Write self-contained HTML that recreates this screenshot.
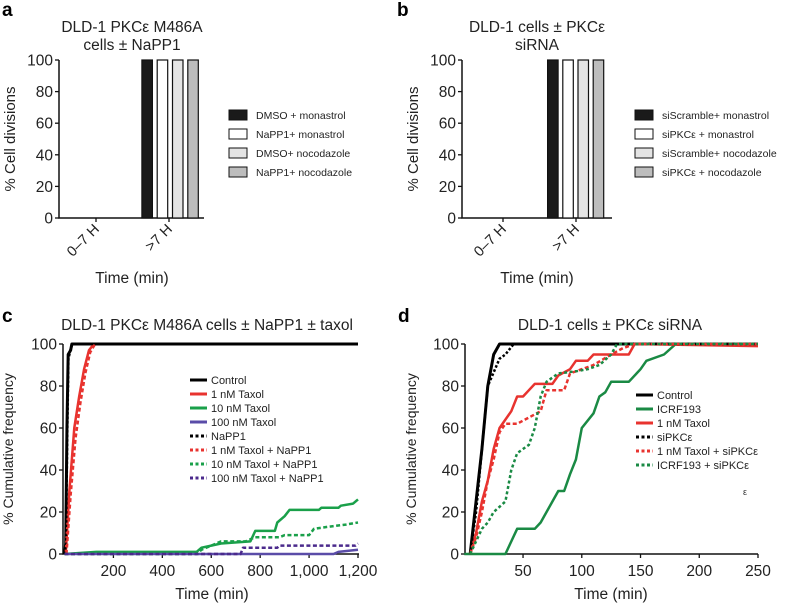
<!DOCTYPE html>
<html><head><meta charset="utf-8"><style>
html,body{margin:0;padding:0;background:#fff}
svg{display:block;font-family:"Liberation Sans",Arial,sans-serif}
</style></head><body>
<svg id="fig" width="788" height="606" viewBox="0 0 788 606" xmlns="http://www.w3.org/2000/svg">
<g id="root"></g>
</svg>
<script>
// ---- Panel a / b data ----
const barCategories = ["0\u20137 H", ">7 H"];
const aSeries = ["DMSO + monastrol", "NaPP1+ monastrol", "DMSO+ nocodazole", "NaPP1+ nocodazole"];
const bSeries = ["siScramble+ monastrol", "siPKC\u03b5 + monastrol", "siScramble+ nocodazole", "siPKC\u03b5 + nocodazole"];
const aValues = [[0, 100], [0, 100], [0, 100], [0, 100]];
const bValues = [[0, 100], [0, 100], [0, 100], [0, 100]];
const barFills = ["#1a1a1a", "#ffffff", "#e4e4e4", "#bdbdbd"];
const barTicks = [0, 20, 40, 60, 80, 100];

// ---- Panel c data ----
const cNames = ["Control", "1 nM Taxol", "10 nM Taxol", "100 nM Taxol", "NaPP1", "1 nM Taxol + NaPP1", "10 nM Taxol + NaPP1", "100 nM Taxol + NaPP1"];
const cControlT = [0, 5, 10, 15, 25, 30, 1200];
const cControlY = [0, 5, 60, 95, 97, 100, 100];
const cTaxol1T = [5, 20, 40, 60, 80, 100, 120];
const cTaxol1Y = [0, 30, 60, 75, 88, 97, 100];
const cTaxol10T = [0, 130, 540, 560, 600, 640, 760, 780, 860, 870, 900, 920, 1040, 1050, 1120, 1130, 1180, 1200];
const cTaxol10Y = [0, 1, 1, 3, 4, 5, 6, 11, 11, 15, 18, 21, 21, 22, 22, 23, 24, 26];
const cTaxol100T = [0, 1100, 1120, 1200];
const cTaxol100Y = [0, 0, 1, 2];
const cNaPP1T = [0, 6, 11, 16, 24, 32, 1200];
const cNaPP1Y = [0, 5, 55, 93, 97, 100, 100];
const cTaxol1NT = [8, 25, 45, 65, 85, 105, 125];
const cTaxol1NY = [0, 28, 55, 72, 86, 96, 100];
const cTaxol10NT = [0, 540, 560, 620, 640, 740, 760, 780, 880, 900, 1000, 1020, 1080, 1150, 1200];
const cTaxol10NY = [0, 0, 2, 5, 6, 6, 7, 8, 8, 9, 9, 12, 13, 14, 15];
const cTaxol100NT = [0, 720, 730, 870, 880, 1190, 1200];
const cTaxol100NY = [0, 0, 3, 3, 4, 4, 5];
const cXTicks = [200, 400, 600, 800, 1000, 1200];
const cXTickLabels = ["200", "400", "600", "800", "1,000", "1,200"];
const lineTicks = [0, 20, 40, 60, 80, 100];

// ---- Panel d data ----
const dNames = ["Control", "ICRF193", "1 nM Taxol", "siPKC\u03b5", "1 nM Taxol + siPKC\u03b5", "ICRF193 + siPKC\u03b5"];
const dControlT = [5, 10, 15, 20, 25, 30, 250];
const dControlY = [0, 25, 50, 80, 95, 100, 100];
const dIcrfT = [0, 35, 40, 45, 60, 65, 75, 80, 85, 90, 95, 100, 110, 115, 120, 125, 140, 150, 155, 170, 180, 250];
const dIcrfY = [0, 0, 6, 12, 12, 15, 25, 30, 30, 38, 45, 60, 67, 75, 77, 82, 82, 88, 92, 95, 100, 100];
const dTaxolT = [5, 10, 15, 20, 25, 30, 40, 45, 50, 55, 60, 75, 80, 90, 95, 105, 110, 120, 140, 145, 250];
const dTaxolY = [0, 10, 25, 35, 50, 60, 68, 75, 75, 78, 81, 81, 85, 88, 92, 92, 95, 95, 95, 100, 99];
const dSiT = [5, 10, 15, 20, 30, 35, 42, 250];
const dSiY = [0, 20, 50, 80, 93, 95, 100, 100];
const dTaxolSiT = [5, 10, 15, 20, 25, 30, 35, 45, 55, 65, 70, 85, 90, 110, 125, 135, 145, 250];
const dTaxolSiY = [0, 8, 20, 35, 45, 58, 62, 62, 65, 68, 78, 78, 86, 90, 95, 98, 100, 100];
const dIcrfSiT = [5, 10, 15, 20, 25, 35, 40, 45, 55, 60, 65, 70, 80, 95, 105, 115, 125, 130, 250];
const dIcrfSiY = [0, 6, 12, 15, 20, 25, 40, 48, 52, 60, 75, 82, 86, 87, 88, 90, 95, 100, 100];
const dXTicks = [50, 100, 150, 200, 250];

const NS = "http://www.w3.org/2000/svg";
const root = document.getElementById("root");
const FS = 15.5;
function mk(tag, attrs, parent, text) {
  const e = document.createElementNS(NS, tag);
  for (const k in attrs) e.setAttribute(k, attrs[k]);
  if (text !== undefined) e.textContent = text;
  (parent || root).appendChild(e);
  return e;
}

// ---------- Bar panels ----------
function barPanel(cfg) {
  const g = mk("g", {});
  
  
  const y = v => cfg.y0 - (v / 100) * (cfg.y0 - cfg.y1);
  const lab = mk("text", {x: cfg.letterX, y: 16, "font-size": 19, "font-weight": "bold"}, g, cfg.letter);
  
  
  cfg.title.forEach((t, i) => {
    const tt = mk("text", {x: cfg.titleX, y: 32 + i * 18, "font-size": FS, "text-anchor": "middle", fill: "#222"}, g, t);
    
    
  });
  const ax = mk("path", {d: `M${cfg.ax},${cfg.y1} V${cfg.y0} H${cfg.axEnd}`, stroke: "#111", "stroke-width": 1.5, fill: "none"}, g);
  
  
  barTicks.forEach(v => {
    mk("line", {x1: cfg.ax - 4, x2: cfg.ax, y1: y(v), y2: y(v), stroke: "#111", "stroke-width": 1.3}, g);
    const t = mk("text", {x: cfg.ax - 6, y: y(v) + 5.5, "font-size": FS, "text-anchor": "end", fill: "#222"}, g, String(v));
    
    
  });
  barCategories.forEach((c, i) => {
    const cx = cfg.catX[i];
    mk("line", {x1: cx, x2: cx, y1: cfg.y0, y2: cfg.y0 + 4, stroke: "#111", "stroke-width": 1.3}, g);
    const t = mk("text", {x: cx + 4, y: cfg.y0 + 12, "font-size": 14.5, "text-anchor": "end", fill: "#222", transform: `rotate(-45 ${cx + 4} ${cfg.y0 + 12})`}, g, c);
    
    
    cfg.values.forEach((s, j) => {
      const v = s[i];
      if (v <= 0) return;
      const bx = cx - 2 * cfg.step + cfg.barOff + j * cfg.step;
      const r = mk("rect", {x: bx, y: y(v), width: cfg.bw, height: cfg.y0 - y(v), fill: barFills[j], stroke: "#111", "stroke-width": 1.2}, g);
      
      
    });
  });
  const yt = mk("text", {x: 0, y: 0, "font-size": 15, "text-anchor": "middle", fill: "#222", transform: `translate(${cfg.ytX},${(cfg.y0 + cfg.y1) / 2}) rotate(-90)`}, g, "% Cell divisions");
  
  
  const xt = mk("text", {x: cfg.xtX, y: 283, "font-size": FS, "text-anchor": "middle", fill: "#222"}, g, "Time (min)");
  
  
  cfg.series.forEach((s, j) => {
    const ly = 110 + j * 19;
    const sw = mk("rect", {x: cfg.legX, y: ly, width: 18, height: 10, fill: barFills[j], stroke: "#111", "stroke-width": 1}, g);
    
    
    const t = mk("text", {x: cfg.legX + 27, y: ly + 9, "font-size": 10.5, fill: "#222"}, g, s);
    
    
  });
}
barPanel({name: "panel-a", letter: "a", letterX: 2, title: ["DLD-1 PKC\u03b5 M486A", "cells \u00b1 NaPP1"], titleX: 132,
  ax: 59, axEnd: 204, y0: 218, y1: 60, catX: [96, 169], step: 15.3, barOff: 3.5, bw: 10.5, values: aValues, series: aSeries,
  legX: 229, ytX: 15, xtX: 132});
barPanel({name: "panel-b", letter: "b", letterX: 397, title: ["DLD-1 cells \u00b1 PKC\u03b5", "siRNA"], titleX: 537,
  ax: 462, axEnd: 612, y0: 218, y1: 60, catX: [503, 576], step: 15.2, barOff: 2, bw: 10.5, values: bValues, series: bSeries,
  legX: 635, ytX: 418, xtX: 537});

// ---------- Line panels ----------
function stepPath(xs, ys, fx, fy) {
  let d = "M" + fx(xs[0]) + "," + fy(ys[0]);
  for (let i = 1; i < xs.length; i++) d += " L" + fx(xs[i]) + "," + fy(ys[i]);
  return d;
}
function linePanel(cfg) {
  const g = mk("g", {});
  
  
  const fx = t => cfg.x0 + t * cfg.sx;
  const fy = v => cfg.y0 - (v / 100) * (cfg.y0 - cfg.y1);
  const lab = mk("text", {x: cfg.letterX, y: 322, "font-size": 19, "font-weight": "bold"}, g, cfg.letter);
  
  
  const tt = mk("text", {x: cfg.titleX, y: 330, "font-size": FS, "text-anchor": "middle", fill: "#222"}, g, cfg.title);
  
  
  lineTicks.forEach(v => {
    mk("line", {x1: cfg.ax - 4, x2: cfg.ax, y1: fy(v), y2: fy(v), stroke: "#111", "stroke-width": 1.3}, g);
    const t = mk("text", {x: cfg.ax - 6, y: fy(v) + 5.5, "font-size": FS, "text-anchor": "end", fill: "#222"}, g, String(v));
    
    
  });
  cfg.xticks.forEach((v, i) => {
    mk("line", {x1: fx(v), x2: fx(v), y1: cfg.y0, y2: cfg.y0 + 4, stroke: "#111", "stroke-width": 1.3}, g);
    const t = mk("text", {x: fx(v), y: cfg.y0 + 22, "font-size": FS, "text-anchor": "middle", fill: "#222"}, g, cfg.xlabels[i]);
    
    
  });
  const ax = mk("path", {d: `M${cfg.ax},${cfg.y1} V${cfg.y0} H${cfg.axEnd}`, stroke: "#111", "stroke-width": 1.5, fill: "none"}, g);
  
  
  cfg.series.forEach(s => {
    const p = mk("path", {d: stepPath(s.t, s.y, fx, fy), stroke: s.c, "stroke-width": s.w, fill: "none", "stroke-dasharray": s.dash || "none", "stroke-linejoin": "round"}, g);
    
    
  });
  cfg.series.forEach((s, i) => {
    const ly = cfg.legY + i * cfg.legStep;
    const l = mk("line", {x1: cfg.legX, x2: cfg.legX + 17, y1: ly, y2: ly, stroke: s.c, "stroke-width": 3, "stroke-dasharray": s.dash ? "3 2.5" : "none"}, g);
    
    
    const t = mk("text", {x: cfg.legX + 21, y: ly + 4, "font-size": 11, fill: "#222"}, g, s.n);
    
    
  });
  const yt = mk("text", {x: 0, y: 0, "font-size": 14, "text-anchor": "middle", fill: "#222", transform: `translate(${cfg.ytX},${(cfg.y0 + cfg.y1) / 2}) rotate(-90)`}, g, "% Cumulative frequency");
  
  
  const xt = mk("text", {x: cfg.xtX, y: 599, "font-size": FS, "text-anchor": "middle", fill: "#222"}, g, "Time (min)");
  
  
}
linePanel({name: "panel-c", letter: "c", letterX: 2, title: "DLD-1 PKC\u03b5 M486A cells \u00b1 NaPP1 \u00b1 taxol", titleX: 207,
  ax: 63, axEnd: 359, x0: 64.5, sx: (358 - 64.5) / 1200, y0: 554, y1: 344, xticks: cXTicks, xlabels: cXTickLabels,
  legX: 190, legY: 380, legStep: 14, ytX: 13, xtX: 212,
  series: [
    {n: cNames[0], t: cControlT, y: cControlY, c: "#000", w: 3},
    {n: cNames[1], t: cTaxol1T, y: cTaxol1Y, c: "#e8332f", w: 2.5},
    {n: cNames[2], t: cTaxol10T, y: cTaxol10Y, c: "#1aa04a", w: 2.5},
    {n: cNames[3], t: cTaxol100T, y: cTaxol100Y, c: "#5a4ca8", w: 2.5},
    {n: cNames[4], t: cNaPP1T, y: cNaPP1Y, c: "#000", w: 2.5, dash: "2.5 2"},
    {n: cNames[5], t: cTaxol1NT, y: cTaxol1NY, c: "#e8332f", w: 2.5, dash: "4 2.5"},
    {n: cNames[6], t: cTaxol10NT, y: cTaxol10NY, c: "#1aa04a", w: 2.5, dash: "4 2.5"},
    {n: cNames[7], t: cTaxol100NT, y: cTaxol100NY, c: "#4b2a8c", w: 2.5, dash: "4 2.5"}
  ]});
linePanel({name: "panel-d", letter: "d", letterX: 398, title: "DLD-1 cells \u00b1  PKC\u03b5 siRNA", titleX: 610,
  ax: 465, axEnd: 758, x0: 464.3, sx: (758 - 464.3) / 250, y0: 554, y1: 344, xticks: dXTicks, xlabels: dXTicks.map(String),
  legX: 636, legY: 395, legStep: 14, ytX: 416, xtX: 611,
  series: [
    {n: dNames[0], t: dControlT, y: dControlY, c: "#000", w: 3},
    {n: dNames[1], t: dIcrfT, y: dIcrfY, c: "#1a8a44", w: 2.5},
    {n: dNames[2], t: dTaxolT, y: dTaxolY, c: "#e8332f", w: 2.5},
    {n: dNames[3], t: dSiT, y: dSiY, c: "#000", w: 2.5, dash: "2.5 2"},
    {n: dNames[4], t: dTaxolSiT, y: dTaxolSiY, c: "#e8332f", w: 2.5, dash: "4 2.5"},
    {n: dNames[5], t: dIcrfSiT, y: dIcrfSiY, c: "#1a8a44", w: 2.5, dash: "3 2.5"}
  ]});
const eps = mk("text", {x: 743, y: 495, "font-size": 9, fill: "#333"}, root, "\u03b5");


</script>
</body></html>
